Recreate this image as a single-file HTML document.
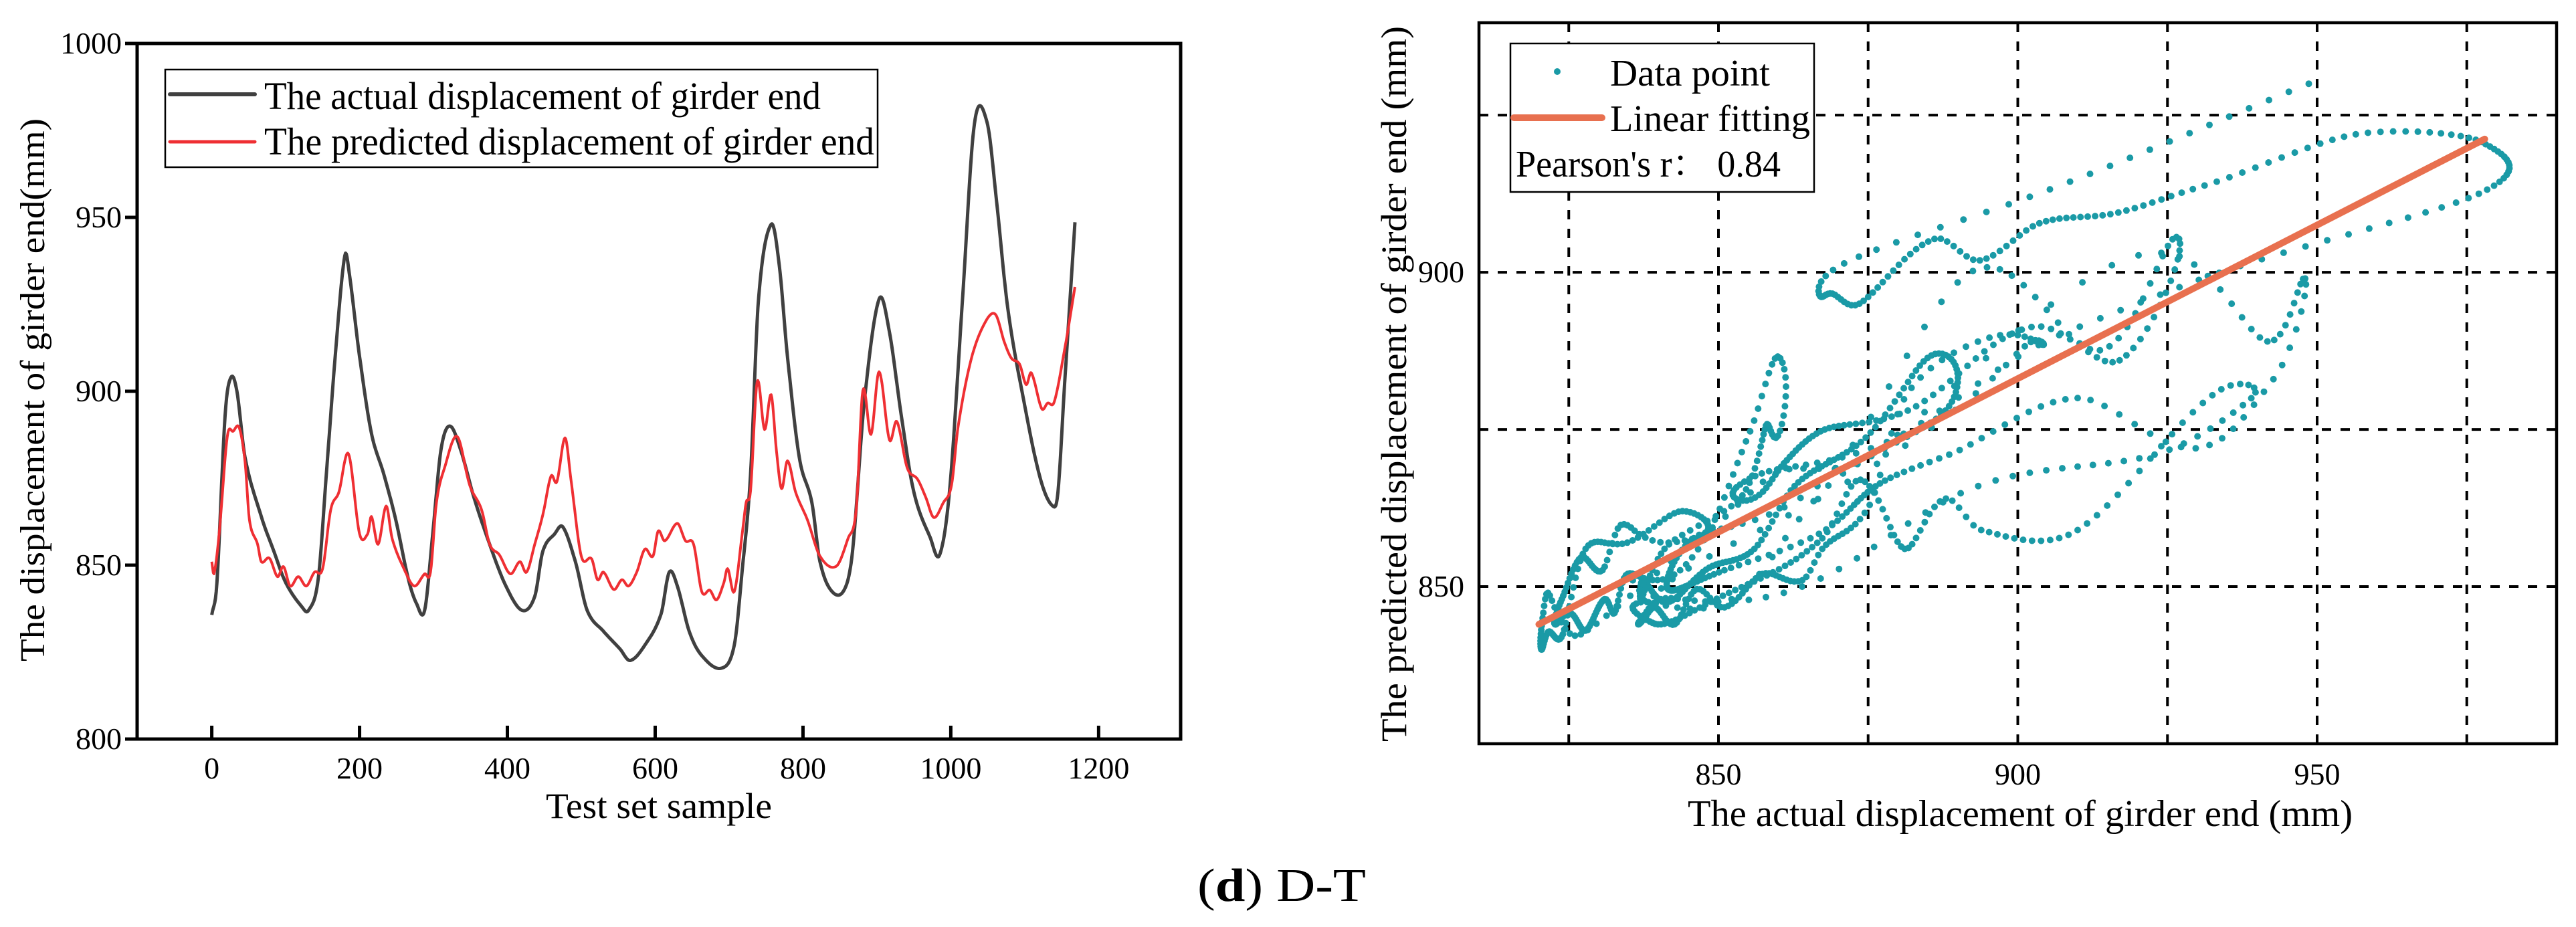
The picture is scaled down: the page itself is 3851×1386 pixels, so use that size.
<!DOCTYPE html>
<html><head><meta charset="utf-8"><style>
html,body{margin:0;padding:0;background:#fff;}
svg{display:block;font-family:"Liberation Serif",serif;}
</style></head><body>
<svg id="fig" width="3851" height="1386" viewBox="0 0 3851 1386" xmlns="http://www.w3.org/2000/svg">
</svg>
<script>
// ---------- data (left chart) ----------
const actualSamples=[0,7,18,26,34,45,67,84,100,122,131,144,155,167,180,186,200,216,233,249,266,277,288,299,310,322,337,354,376,398,420,437,448,464,475,492,508,530,552,566,586,608,619,630,646,663,690,707,718,729,740,757,768,779,795,812,823,839,856,867,883,903,917,933,950,972,985,999,1016,1032,1049,1062,1077,1099,1121,1138,1145,1154,1168];
const actualValues=[835.7,845,893,904,900,881,864,854,845,838,837,846,876,910,939,934,910,888,876,863,846,839,837,859,883,890,883,870,856,844,837,841,854,859,861,851,837,831,826,822.6,827,836,848,844,831,824,820.4,827,849,876,927,948,936,910,881,868,851,842.5,843,854,897,926.5,917,893,871,858,853,873,927,977,977.4,954.5,924,897,875,867,871,902,948.6];
const predSamples=[0,3,10,21,29,37,45,51,62,67,78,89,97,106,117,128,139,150,161,172,185,200,211,216,225,236,244,260,274,288,296,304,315,332,349,365,376,389,404,417,426,437,448,459,467,478,486,500,514,522,530,544,555,564,575,586,597,604,613,630,641,652,663,674,683,693,698,707,718,723,729,738,748,757,764,771,779,790,806,823,845,861,872,881,892,903,917,927,941,955,966,977,990,1001,1010,1027,1044,1060,1073,1082,1093,1102,1109,1123,1131,1140,1154,1168];
const predValues=[851,847.5,859,887,888.5,889.6,879.8,863,856,851,852,846.7,849.6,844,846.7,844,848,849,866,871,882,859,859,864,856,867,857.7,849,844,847.5,848,868,878,887,873,866,856,853,847.5,851,848,856,864.5,875.6,874,886.6,874.7,852.6,851.8,845.8,848,843,845.8,844,848,854.6,852.6,859.8,857,862,857,856,842.4,842.8,840,845,849,842.4,859.4,868,871.3,902.7,889,899,883,872,880,871,863,852.6,849.7,857.7,866,900.2,887.6,905.6,886,891.3,878,874.7,869.6,863.7,868,873,890,908.7,918.8,922.2,913.8,909.5,907.8,901.9,905.3,895,896.6,897,912,930];
const leftXTicks=[0,200,400,600,800,1000,1200];
const leftYTicks=[800,850,900,950,1000];
// ---------- data (right chart) ----------
const rightXTicks=[850,900,950];
const rightYTicks=[850,900];
const rightXGrid=[825,850,875,900,925,950,975];
const rightYGrid=[850,875,900,925];
const fitX=[820,978];
const fitY=[844,921.2];

const NS='http://www.w3.org/2000/svg';
const svg=document.getElementById('fig');
function mk(tag,attrs,parent){const e=document.createElementNS(NS,tag);for(const k in attrs)e.setAttribute(k,attrs[k]);(parent||svg).appendChild(e);return e;}
function txt(s,attrs,parent){const e=mk('text',attrs,parent);e.textContent=s;return e;}

// Catmull-Rom (monotone in x) evaluation for smooth curves
function smooth(xs,ys,s){
  let i=1;while(i<xs.length-1&&s>xs[i])i++;
  const i0=i-1,i1=i;
  const t=(s-xs[i0])/(xs[i1]-xs[i0]);
  const slope=(k)=>{
    if(k<=0)return (ys[1]-ys[0])/(xs[1]-xs[0]);
    if(k>=xs.length-1)return (ys[k]-ys[k-1])/(xs[k]-xs[k-1]);
    return (ys[k+1]-ys[k-1])/(xs[k+1]-xs[k-1]);
  };
  const h=xs[i1]-xs[i0],m0=slope(i0)*h,m1=slope(i1)*h;
  const t2=t*t,t3=t2*t;
  return (2*t3-3*t2+1)*ys[i0]+(t3-2*t2+t)*m0+(-2*t3+3*t2)*ys[i1]+(t3-t2)*m1;
}

// ---------- left axes ----------
const L={x0:205,x1:1765,y0:65,y1:1105,xmin:-101,xmax:1311,ymin:800,ymax:1000};
const lx=v=>L.x0+(v-L.xmin)/(L.xmax-L.xmin)*(L.x1-L.x0);
const ly=v=>L.y1-(v-L.ymin)/(L.ymax-L.ymin)*(L.y1-L.y0);
const gL=mk('g',{});



function smoothPath(xs,ys){
  const pts=[];const last=xs[xs.length-1];
  for(let s=xs[0];s<=last;s+=1)pts.push([lx(s),ly(smooth(xs,ys,s))]);
  return pts.map((p,i)=>(i?'L':'M')+p[0].toFixed(1)+','+p[1].toFixed(1)).join(' ');
}
const pa=mk('path',{d:smoothPath(actualSamples,actualValues),fill:'none',stroke:'#404040','stroke-width':5,'stroke-linejoin':'round'},gL);


const pp=mk('path',{d:smoothPath(predSamples,predValues),fill:'none',stroke:'#ef2f33','stroke-width':4,'stroke-linejoin':'round'},gL);



const fl=mk('rect',{x:L.x0,y:L.y0,width:L.x1-L.x0,height:L.y1-L.y0,fill:'none',stroke:'#000','stroke-width':5},gL);


leftXTicks.forEach(v=>{
  const t=mk('line',{x1:lx(v),x2:lx(v),y1:L.y1,y2:L.y1-20,stroke:'#000','stroke-width':5},gL);
  
  
  const l=txt(String(v),{x:lx(v),y:1164,'font-size':46,'text-anchor':'middle'},gL);
  
  
});
leftYTicks.forEach(v=>{
  const t=mk('line',{x1:L.x0,x2:L.x0-18,y1:ly(v),y2:ly(v),stroke:'#000','stroke-width':5},gL);
  
  
  const l=txt(String(v),{x:182,y:ly(v)+15,'font-size':46,'text-anchor':'end'},gL);
  
  
});
const xt=txt('Test set sample',{x:816,y:1223,'font-size':54,textLength:338,lengthAdjust:'spacingAndGlyphs'},gL);


const yt=txt('The displacement of girder end(mm)',{x:0,y:0,'font-size':52,'text-anchor':'middle',transform:'translate(66,583) rotate(-90)',textLength:812,lengthAdjust:'spacingAndGlyphs'},gL);


const lg=mk('g',{},gL);


mk('rect',{x:247,y:104,width:1065,height:146,fill:'#fff',stroke:'#000','stroke-width':2.5},lg);
mk('line',{x1:254,x2:381,y1:141,y2:141,stroke:'#404040','stroke-width':6,'stroke-linecap':'round'},lg);
const le1=txt('The actual displacement of girder end',{x:395,y:163,'font-size':58,textLength:832,lengthAdjust:'spacingAndGlyphs'},lg);


mk('line',{x1:254,x2:381,y1:212,y2:212,stroke:'#ef2f33','stroke-width':5,'stroke-linecap':'round'},lg);
const le2=txt('The predicted displacement of girder end',{x:395,y:231,'font-size':58,textLength:912,lengthAdjust:'spacingAndGlyphs'},lg);



// ---------- right axes ----------
const R={x0:2211,x1:3822,y0:34,y1:1112,xmin:810,xmax:990,ymin:825,ymax:939.7};
const rx=v=>R.x0+(v-R.xmin)/(R.xmax-R.xmin)*(R.x1-R.x0);
const ry=v=>R.y1-(v-R.ymin)/(R.ymax-R.ymin)*(R.y1-R.y0);
const gR=mk('g',{});


rightXGrid.forEach(v=>{
  const g=mk('line',{x1:rx(v),x2:rx(v),y1:R.y0,y2:R.y1,stroke:'#000','stroke-width':4,'stroke-dasharray':'14 14'},gR);
  
  
});
rightYGrid.forEach(v=>{
  const g=mk('line',{x1:R.x0,x2:R.x1,y1:ry(v),y2:ry(v),stroke:'#000','stroke-width':4,'stroke-dasharray':'14 14'},gR);
  
  
});
const dots=mk('g',{fill:'#1a9aa6'},gR);


const nMax=Math.min(actualSamples[actualSamples.length-1],predSamples[predSamples.length-1]);
for(let s=0;s<=nMax;s++){
  const a=smooth(actualSamples,actualValues,s), p=smooth(predSamples,predValues,s);
  const c=mk('circle',{cx:rx(a).toFixed(1),cy:ry(p).toFixed(1),r:5},dots);
  
  
}
const fit=mk('line',{x1:rx(fitX[0]),y1:ry(fitY[0]),x2:rx(fitX[1]),y2:ry(fitY[1]),stroke:'#e8704f','stroke-width':10,'stroke-linecap':'round'},gR);


const fr=mk('rect',{x:R.x0,y:R.y0,width:R.x1-R.x0,height:R.y1-R.y0,fill:'none',stroke:'#000','stroke-width':4.5},gR);


rightXTicks.forEach(v=>{
  const l=txt(String(v),{x:rx(v),y:1173,'font-size':46,'text-anchor':'middle'},gR);
  
  
});
rightYTicks.forEach(v=>{
  const l=txt(String(v),{x:2189,y:ry(v)+15,'font-size':46,'text-anchor':'end'},gR);
  
  
});
const rxt=txt('The actual displacement of girder end (mm)',{x:2523,y:1235,'font-size':56,textLength:994,lengthAdjust:'spacingAndGlyphs'},gR);


const ryt=txt('The predicted displacement of girder end (mm)',{x:0,y:0,'font-size':54,'text-anchor':'middle',transform:'translate(2102,574) rotate(-90)',textLength:1070,lengthAdjust:'spacingAndGlyphs'},gR);


const rl=mk('g',{},gR);


mk('rect',{x:2258,y:65,width:454,height:222,fill:'#fff',stroke:'#000','stroke-width':2.5},rl);
mk('circle',{cx:2328,cy:107,r:5,fill:'#1a9aa6'},rl);
const r1=txt('Data point',{x:2407,y:128,'font-size':56,textLength:239,lengthAdjust:'spacingAndGlyphs'},rl);


mk('line',{x1:2263,x2:2395,y1:176,y2:176,stroke:'#e8704f','stroke-width':10,'stroke-linecap':'round'},rl);
const r2=txt('Linear fitting',{x:2407,y:196,'font-size':56,textLength:299,lengthAdjust:'spacingAndGlyphs'},rl);


const r3=txt("Pearson's r\uFF1A  0.84",{x:2266,y:264,'font-size':56,textLength:396,lengthAdjust:'spacingAndGlyphs','font-family':'"Liberation Serif","Noto Serif CJK SC",serif'},rl);



const cap=mk('text',{x:1790,y:1347,'font-size':70,textLength:252,lengthAdjust:'spacingAndGlyphs'});


cap.innerHTML='(<tspan font-weight="bold">d</tspan>) D-T';
</script>
</body></html>
